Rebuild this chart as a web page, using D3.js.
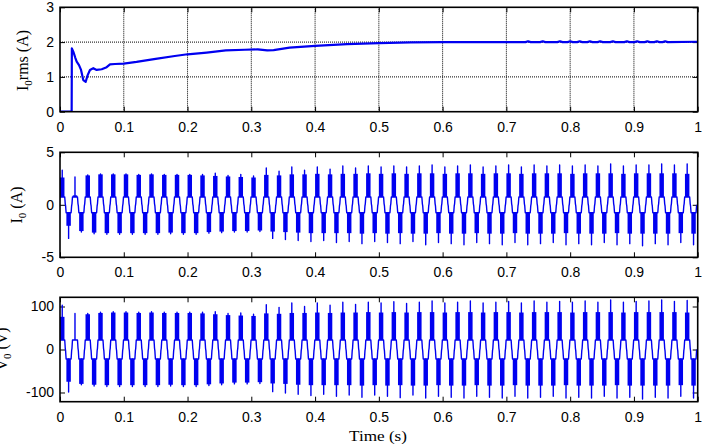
<!DOCTYPE html>
<html><head><meta charset="utf-8">
<script src="https://cdn.jsdelivr.net/npm/d3@7"></script>
<style>body{margin:0;background:#fff}svg{display:block}</style>
</head><body>
<svg id="c" width="705" height="444"></svg>
<script>
// ---------- data ----------
const xTicks = [0,0.1,0.2,0.3,0.4,0.5,0.6,0.7,0.8,0.9,1];
const rmsTicks = [0,1,2,3];
const iTicks = [-5,0,5];
const vTicks = [-100,0,100];

// I0 rms (top panel): [time, value]
const rmsPoints = [
 [0,0],[0.0183,0],[0.0186,1.82],[0.021,1.72],[0.024,1.55],[0.0262,1.44],[0.0298,1.34],
 [0.033,1.2],[0.0365,0.91],[0.0403,0.86],[0.0434,1.05],[0.047,1.2],[0.0522,1.25],[0.0575,1.2],
 [0.0654,1.22],[0.0732,1.28],[0.0784,1.36],[0.0862,1.37],[0.1,1.38],[0.12,1.43],[0.15,1.52],
 [0.18,1.6],[0.2,1.65],[0.23,1.7],[0.26,1.76],[0.29,1.78],[0.31,1.79],[0.325,1.76],[0.335,1.77],
 [0.36,1.84],[0.4,1.89],[0.45,1.94],[0.5,1.97],[0.55,1.99],[0.6,2.0],[0.73,2.0],
 [0.734,2.025],[0.738,2.0],[0.753,2.0],[0.757,2.025],[0.761,2.0],[0.78,2.0],[0.784,2.025],[0.788,2.0],
 [0.796,2.0],[0.8,2.025],[0.804,2.0],[0.811,2.0],[0.815,2.025],[0.819,2.0],[0.827,2.0],[0.831,2.025],
 [0.835,2.0],[0.843,2.0],[0.847,2.025],[0.851,2.0],[0.863,2.0],[0.867,2.025],[0.871,2.0],[0.885,2.0],
 [0.889,2.025],[0.893,2.0],[0.901,2.0],[0.905,2.025],[0.909,2.0],[0.917,2.0],[0.921,2.025],[0.925,2.0],
 [0.932,2.0],[0.936,2.025],[0.94,2.0],[0.945,2.0],[0.949,2.025],[0.953,2.0],[1.0,2.01]
];

// I0 per cycle (positive pulse at 0.0035+0.02k, negative pulse 0.01 s later)
const iPosBand = [2.6,0.9,2.8,2.9,2.9,2.9,2.85,2.9,2.85,2.85, 2.85,2.8,2.75,2.7,2.65,2.6,2.85,2.8,2.9,2.9,
 2.95,2.9,2.95,2.95,3.0,2.95,3.0,2.95,3.0,3.0, 2.95,3.0,3.0,2.95,3.0,3.0,2.95,3.0,3.0,3.0, 2.95,3.0,3.0,3.0,2.95,3.0,3.0,3.0,3.0,2.95];
const iPosSpike = [3.3,2.65,2.85,2.95,2.95,2.95,2.9,2.95,2.9,2.9, 2.9,2.9,3.0,2.8,2.9,2.75,3.5,3.2,3.6,3.3,
 3.6,3.4,3.7,3.5,3.7,3.6,3.7,3.6,3.7,3.8, 3.6,3.7,3.8,3.6,3.7,3.8,3.6,3.8,3.7,3.8, 3.7,3.8,3.7,3.9,3.7,3.8,3.8,3.9,3.8,3.9];
const iNegBand = [-2.0,-2.5,-2.65,-2.7,-2.7,-2.7,-2.7,-2.7,-2.65,-2.7, -2.7,-2.6,-2.55,-2.5,-2.5,-2.45,-2.55,-2.6,-2.65,-2.7,
 -2.7,-2.7,-2.7,-2.75,-2.7,-2.75,-2.7,-2.75,-2.75,-2.7, -2.75,-2.75,-2.7,-2.75,-2.75,-2.7,-2.75,-2.75,-2.75,-2.7, -2.75,-2.75,-2.75,-2.7,-2.75,-2.75,-2.75,-2.75,-2.7,-2.75];
const iNegSpike = [-3.2,-2.6,-2.75,-2.8,-2.8,-2.8,-2.8,-2.8,-2.75,-2.8, -2.8,-2.7,-2.65,-2.6,-2.6,-2.55,-3.2,-3.3,-3.4,-3.5,
 -3.4,-3.6,-3.5,-3.7,-3.5,-3.6,-3.7,-3.5,-3.8,-3.6, -3.7,-3.8,-3.6,-3.7,-3.8,-3.6,-3.8,-3.7,-3.6,-3.8, -3.7,-3.8,-3.6,-3.8,-3.7,-3.9,-3.7,-3.8,-3.6,-3.8];
const iStair = 0.75;

// V0 per cycle
const vPosBand = [76,22,82,85,86,86,85,86,85,85, 85,84,82,80,79,78,84,83,85,85,
 86,85,86,86,87,86,87,86,87,87, 86,87,87,86,87,87,86,87,87,87, 86,87,87,87,86,87,87,87,87,86];
const vPosSpike = [103,84,84,87,88,88,87,88,87,87, 87,87,88,84,85,82,104,98,108,100,
 108,103,110,105,110,108,111,107,110,113, 108,110,113,108,110,112,108,113,110,112, 110,113,110,115,110,112,113,115,112,114];
const vNegBand = [-75,-80,-82,-83,-83,-83,-83,-83,-82,-83, -83,-81,-79,-77,-77,-76,-79,-80,-82,-83,
 -83,-83,-83,-84,-83,-84,-83,-84,-84,-83, -84,-84,-83,-84,-84,-83,-84,-84,-84,-83, -84,-84,-84,-83,-84,-84,-84,-84,-83,-84];
const vNegSpike = [-99,-82,-85,-86,-86,-86,-86,-86,-85,-86, -86,-84,-82,-80,-80,-79,-98,-101,-104,-107,
 -104,-109,-106,-111,-106,-109,-112,-106,-113,-109, -111,-113,-109,-111,-113,-109,-113,-111,-109,-113, -111,-113,-109,-113,-111,-115,-111,-113,-109,-113];
const vStair = 22;

// shape of one half cycle (phase 0..1 of 0.01 s), stair fraction; null = spike tip
const halfPhase = [0,0.03,0.07,0.11,0.15,0.495,0.5,0.505,0.85,0.89,0.93,0.97,1.0];
const halfStairFrac = [0,0.15,0.6,1,1,1,null,1,1,1,0.6,0.15,0];
const bandFrom = 0.15, bandTo = 0.85;
const halfStart0 = -0.0015, halfPeriod = 0.01;

// ---------- drawing ----------
const svg = d3.select("#c");
const blue = "#0000f0";
const x = d3.scaleLinear().domain([0,1]).range([60,697.7]);
const tickFont = "'Liberation Sans', Arial, sans-serif";
const serif = "'Liberation Serif', 'Times New Roman', serif";
const fmt = d => String(+(+d).toFixed(1));

function panel(id, top, bottom, domain, yTicks, grid) {
  const y = d3.scaleLinear().domain(domain).range([bottom, top]);
  const g = svg.append("g");
  g.append("clipPath").attr("id", "clip"+id).append("rect")
    .attr("x", x(0)).attr("y", top).attr("width", x(1)-x(0)).attr("height", bottom-top);
  if (grid) {
    g.selectAll(".gx").data(xTicks.slice(1,-1)).enter().append("line")
      .attr("x1", d=>x(d)).attr("x2", d=>x(d)).attr("y1", top).attr("y2", bottom)
      .attr("stroke","#000").attr("stroke-width",1).attr("stroke-dasharray","1,1");
    g.selectAll(".gy").data(yTicks.slice(1,-1)).enter().append("line")
      .attr("x1", x(0)).attr("x2", x(1)).attr("y1", d=>y(d)).attr("y2", d=>y(d))
      .attr("stroke","#000").attr("stroke-width",1).attr("stroke-dasharray","1,1");
  }
  const styleAxis = a => {
    a.select(".domain").remove();
    a.selectAll("line").attr("stroke","#000").attr("stroke-width",1);
    a.selectAll("text").attr("font-family", tickFont).attr("font-size", 14).attr("fill","#000");
  };
  g.append("g").attr("transform",`translate(0,${bottom})`)
    .call(d3.axisBottom(x).tickValues(xTicks).tickSizeInner(-5).tickSizeOuter(0).tickPadding(10).tickFormat(fmt))
    .call(styleAxis);
  g.append("g").attr("transform",`translate(0,${top})`)
    .call(d3.axisTop(x).tickValues(xTicks).tickSizeInner(-5).tickSizeOuter(0).tickFormat(""))
    .call(styleAxis);
  g.append("g").attr("transform",`translate(${x(0)},0)`)
    .call(d3.axisLeft(y).tickValues(yTicks).tickSizeInner(-5).tickSizeOuter(0).tickPadding(6).tickFormat(d=>String(d)))
    .call(styleAxis);
  g.append("g").attr("transform",`translate(${x(1)},0)`)
    .call(d3.axisRight(y).tickValues(yTicks).tickSizeInner(-5).tickSizeOuter(0).tickFormat(""))
    .call(styleAxis);
  const plot = g.append("g").attr("clip-path", `url(#clip${id})`);
  return {y, g, plot, top, bottom};
}

function buildWave(posBand, posSpike, negBand, negSpike, stair) {
  const pts = [], bands = [];
  for (let h = 0; h < 2*posBand.length; h++) {
    const k = Math.floor(h/2), sign = h%2===0 ? 1 : -1;
    const band = sign>0 ? posBand[k] : negBand[k];
    const spike = sign>0 ? posSpike[k] : negSpike[k];
    const t0 = halfStart0 + halfPeriod*h;
    halfPhase.forEach((p,i) => {
      const f = halfStairFrac[i];
      pts.push([t0 + p*halfPeriod, f===null ? spike : sign*stair*f]);
    });
    bands.push({t0: t0+bandFrom*halfPeriod, t1: t0+bandTo*halfPeriod, lo: sign*stair, hi: band});
  }
  return {pts, bands};
}

function drawWave(p, wave) {
  p.plot.selectAll("rect.band").data(wave.bands).enter().append("rect").attr("class","band")
    .attr("x", d=>x(d.t0)).attr("width", d=>x(d.t1)-x(d.t0))
    .attr("y", d=>p.y(Math.max(d.lo,d.hi))).attr("height", d=>Math.abs(p.y(d.lo)-p.y(d.hi)))
    .attr("fill", blue);
  p.plot.append("path").datum(wave.pts)
    .attr("d", d3.line().x(d=>x(d[0])).y(d=>p.y(d[1])))
    .attr("fill","none").attr("stroke", blue).attr("stroke-width",1.4).attr("stroke-linejoin","round");
}

// top panel
const p1 = panel(1, 7.3, 111.7, [0,3], rmsTicks, true);
p1.plot.append("path").datum(rmsPoints)
  .attr("d", d3.line().x(d=>x(d[0])).y(d=>p1.y(d[1])))
  .attr("fill","none").attr("stroke", blue).attr("stroke-width",2.2).attr("stroke-linejoin","round");

// middle panel
const p2 = panel(2, 152.3, 257.3, [-5,5], iTicks, false);
drawWave(p2, buildWave(iPosBand, iPosSpike, iNegBand, iNegSpike, iStair));

// bottom panel
const p3 = panel(3, 297.3, 401.7, [-121.4,121.4], vTicks, false);
drawWave(p3, buildWave(vPosBand, vPosSpike, vNegBand, vNegSpike, vStair));

// frames
[p1,p2,p3].forEach(p => {
  svg.append("rect").attr("x", x(0)).attr("y", p.top).attr("width", x(1)-x(0)).attr("height", p.bottom-p.top)
    .attr("fill","none").attr("stroke","#000").attr("stroke-width",1.6);
});

// axis labels
function yLabel(tx, ty, main, rest) {
  const t = svg.append("text").attr("transform",`translate(${tx},${ty}) rotate(-90)`)
    .attr("text-anchor","middle").attr("font-family", serif).attr("font-size",16).attr("fill","#000");
  t.append("tspan").text(main);
  t.append("tspan").attr("dy",4).attr("font-size",11).text("0");
  t.append("tspan").attr("dy",-4).text(rest);
}
yLabel(28, 60.5, "I", "rms (A)");
yLabel(22, 205, "I", " (A)");
yLabel(7, 349, "V", " (V)");

svg.append("text").attr("x", 378).attr("y", 440.5).attr("text-anchor","middle")
  .attr("font-family", serif).attr("font-size",14.5).attr("fill","#000")
  .attr("textLength",58).attr("lengthAdjust","spacingAndGlyphs").text("Time (s)");
</script>
</body></html>
